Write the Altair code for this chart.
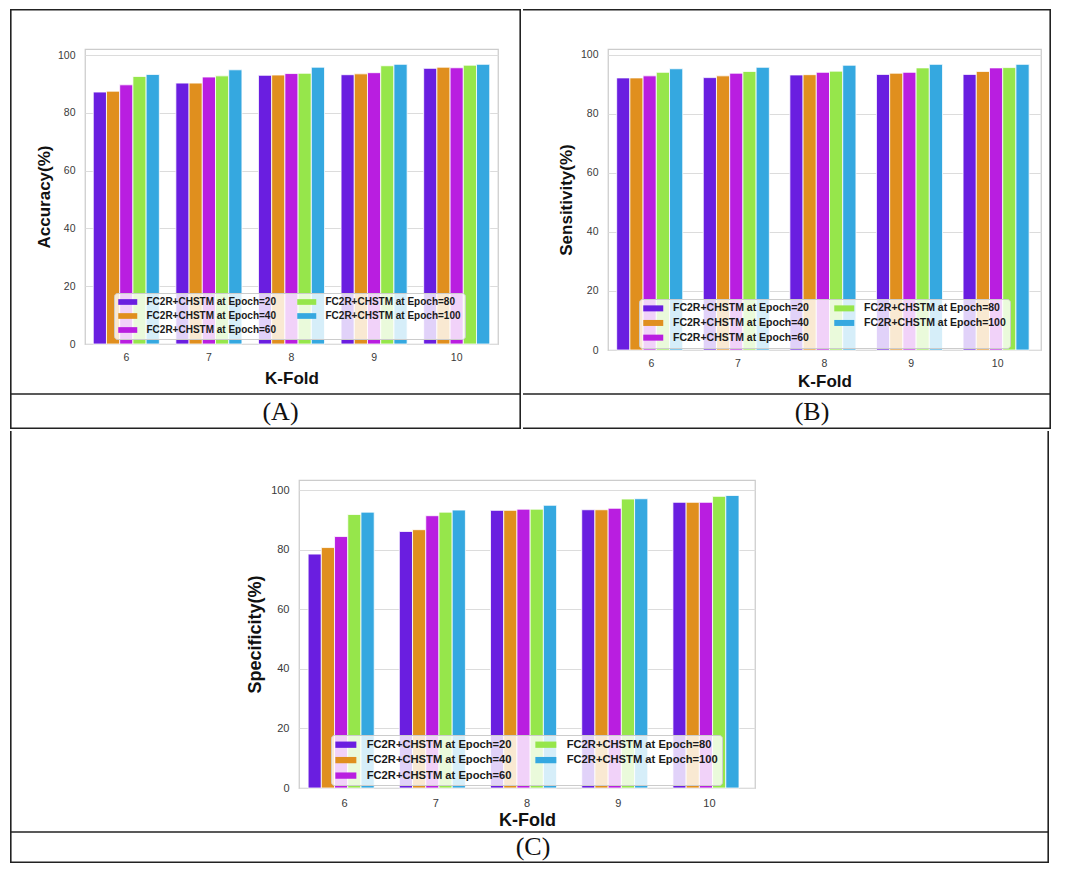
import altair as alt
import pandas as pd

# ---------------- data ----------------
folds = ["6", "7", "8", "9", "10"]
series = [
    "FC2R+CHSTM at Epoch=20",
    "FC2R+CHSTM at Epoch=40",
    "FC2R+CHSTM at Epoch=60",
    "FC2R+CHSTM at Epoch=80",
    "FC2R+CHSTM at Epoch=100",
]
colors = ["#6a1ee0", "#e08f1e", "#b91ee0", "#96e64b", "#35a8e0"]

accuracy_e20 = [87.2, 90.3, 93.0, 93.2, 95.4]
accuracy_e40 = [87.5, 90.3, 93.1, 93.5, 95.8]
accuracy_e60 = [89.7, 92.4, 93.6, 93.9, 95.6]
accuracy_e80 = [92.6, 92.8, 93.7, 96.3, 96.5]
accuracy_e100 = [93.3, 94.9, 95.8, 96.8, 96.8]

sensitivity_e20 = [92.2, 92.3, 93.2, 93.4, 93.4]
sensitivity_e40 = [92.2, 92.9, 93.3, 93.8, 94.4]
sensitivity_e60 = [92.9, 93.8, 94.1, 94.1, 95.6]
sensitivity_e80 = [94.1, 94.4, 94.5, 95.6, 95.7]
sensitivity_e100 = [95.3, 95.8, 96.5, 96.8, 96.8]

specificity_e20 = [78.6, 86.2, 93.3, 93.5, 96.0]
specificity_e40 = [80.8, 86.8, 93.3, 93.5, 96.0]
specificity_e60 = [84.5, 91.5, 93.7, 94.0, 96.0]
specificity_e80 = [91.9, 92.7, 93.7, 97.1, 98.0]
specificity_e100 = [92.7, 93.4, 95.0, 97.2, 98.3]

y_titles = ["Accuracy(%)", "Sensitivity(%)", "Specificity(%)"]
x_title = "K-Fold"
captions = ["(A)", "(B)", "(C)"]
y_ticks = [0, 20, 40, 60, 80, 100]

metrics = [
    [accuracy_e20, accuracy_e40, accuracy_e60, accuracy_e80, accuracy_e100],
    [sensitivity_e20, sensitivity_e40, sensitivity_e60, sensitivity_e80, sensitivity_e100],
    [specificity_e20, specificity_e40, specificity_e60, specificity_e80, specificity_e100],
]

FONT = "Liberation Sans"
LINE = "#222222"
one = pd.DataFrame({"k": [0]})


def bar_line(x1, x2, y1, y2):
    # table border drawn as a thin filled rectangle (pixel positions, decoration only)
    return alt.Chart(one).mark_rect(color=LINE, strokeWidth=0).encode(
        x=alt.value(x1), x2=alt.value(x2), y=alt.value(y1), y2=alt.value(y2)
    )


def spacer():
    return (
        alt.Chart(one)
        .mark_point(size=0, opacity=0, strokeWidth=0)
        .encode(x=alt.value(0), y=alt.value(0))
        .properties(
            width=1, height=1,
            view=alt.ViewBackground(strokeOpacity=0, strokeWidth=0, fillOpacity=0),
        )
    )


def panel(idx, P):
    rows = []
    for s, vals in zip(series, metrics[idx]):
        for f, v in zip(folds, vals):
            rows.append({"fold": f, "series": s, "value": v})
    df = pd.DataFrame(rows)
    W = P["sym"]
    bars = alt.Chart(df).mark_bar(stroke="white", strokeWidth=0.8).encode(
        x=alt.X(
            "fold:N",
            sort=folds,
            scale=alt.Scale(paddingInner=0.2, paddingOuter=0.1),
            axis=alt.Axis(
                title=x_title, labelAngle=0, ticks=False, tickSize=0, domain=False,
                grid=False, labelPadding=P["lpx"], labelFontSize=P["lfs"],
                titleFontSize=P["tfs"], titleFontWeight="bold",
                titleY=P["tyx"], titleBaseline="middle",
            ),
        ),
        xOffset=alt.XOffset(
            "series:N", sort=series, scale=alt.Scale(paddingInner=0, paddingOuter=0)
        ),
        y=alt.Y(
            "value:Q",
            scale=alt.Scale(domain=[0, P["ymax"]], nice=False),
            axis=alt.Axis(
                title=y_titles[idx], values=y_ticks, ticks=False, tickSize=0,
                domain=False, labelPadding=P["lpy"], labelFontSize=P["lfs"],
                titleFontSize=P["tfs"], titleFontWeight="bold",
                titleX=P["txy"], titleY=P["h"] / 2, titleAngle=-90,
                titleAlign="center", titleBaseline="middle",
            ),
        ),
        color=alt.Color(
            "series:N",
            scale=alt.Scale(domain=series, range=colors),
            legend=alt.Legend(
                title=None, orient="none", legendX=P["lx"], legendY=P["ly"],
                columns=2, columnPadding=P["cp"], rowPadding=P["rp"],
                symbolType="M-1,-0.6H3V0.6H-1Z", symbolSize=W * W / 4,
                symbolStrokeWidth=0, labelOffset=P["lo"],
                labelFont=FONT, labelFontSize=P["legfs"], labelFontWeight="bold",
                labelColor="#1a1a1a", labelLimit=400,
                fillColor="rgba(255,255,255,0.8)", strokeColor="#cccccc",
                cornerRadius=3, padding=P["pad"],
            ),
        ),
    )
    cap = alt.Chart(pd.DataFrame({"c": [captions[idx]]})).mark_text(
        font="Liberation Serif", fontSize=26, color="#111111"
    ).encode(x=alt.value(P["capx"]), y=alt.value(P["capy"]), text="c:N")
    return alt.layer(*P["rules"], bars, cap).properties(width=P["w"], height=P["h"])


PA = dict(
    w=413, h=295, ymax=102.1, lfs=10.5, tfs=17, lpx=8, lpy=10, tyx=34, txy=-41,
    lx=29, ly=244, cp=21, rp=4, sym=19, lo=18.5, legfs=10, pad=4,
    capx=195.5, capy=363,
    rules=[
        bar_line(-75, 436, -40, -38.4),
        bar_line(-75, 436, 344.2, 345.8),
        bar_line(-75, 436, 378.4, 380),
        bar_line(-75, -73.4, -40, 380),
        bar_line(434.4, 436, -40, 380),
    ],
)
PB = dict(
    w=433, h=301, ymax=102.0, lfs=10.5, tfs=17, lpx=8, lpy=10, tyx=31, txy=-42,
    lx=31, ly=250, cp=25, rp=3.7, sym=20, lo=19.5, legfs=10.5, pad=4,
    capx=204, capy=363,
    rules=[
        bar_line(-85, 443, -40, -38.4),
        bar_line(-85, 443, 344.2, 345.8),
        bar_line(-85, 443, 378.4, 380),
        bar_line(441.4, 443, -40, 380),
    ],
)
PC = dict(
    w=456, h=308, ymax=103.5, lfs=11, tfs=18, lpx=9, lpy=10, tyx=32, txy=-44,
    lx=32, ly=255, cp=23, rp=3.5, sym=21, lo=20.5, legfs=11.2, pad=4,
    capx=234, capy=367,
    rules=[
        bar_line(-289, 750, 351.2, 352.8),
        bar_line(-289, 750, 381.4, 383),
        bar_line(-289, -287.4, -49, 383),
        bar_line(748.4, 750, -49, 383),
    ],
)

A = panel(0, PA)
B = panel(1, PB)
C = panel(2, PC)

top = (
    alt.hconcat(spacer(), A, B, spacing=0)
    .resolve_scale(color="independent")
    .resolve_legend(color="independent")
)
bottom = (
    alt.hconcat(spacer(), C, spacing=0)
    .resolve_scale(color="independent")
    .resolve_legend(color="independent")
)
chart = (
    alt.vconcat(top, bottom, spacing=0)
    .resolve_scale(color="independent")
    .resolve_legend(color="independent")
    .properties(padding=0, background="white")
    .configure_view(stroke="#cccccc", strokeWidth=1.25)
    .configure_axis(
        labelFont=FONT, titleFont=FONT, labelColor="#3a3a3a", titleColor="#111111",
        gridColor="#dcdcdc", gridWidth=1,
    )
)

chart.save("out.html", embed_options={"renderer": "svg", "actions": False})
